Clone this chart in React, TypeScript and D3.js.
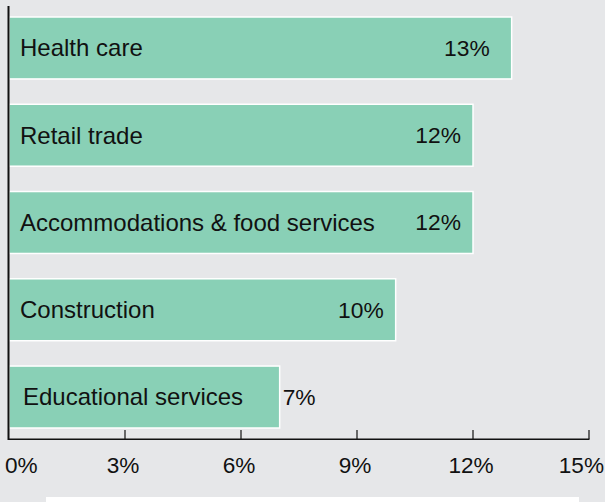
import React from "react";
import * as d3 from "d3";

const categories = [
  "Health care",
  "Retail trade",
  "Accommodations & food services",
  "Construction",
  "Educational services",
];
const values = [13, 12, 12, 10, 7];
const tickValues = [0, 3, 6, 9, 12, 15];

const W = 605;
const H = 502;
const BG = "#e6e7e9";
const BAR = "#89d0b6";
const FONT = "'Liberation Sans', Arial, Helvetica, sans-serif";

export default function App() {
  const x = d3.scaleLinear().domain([0, 15]).range([9, 589]);
  const y = d3
    .scaleBand<string>()
    .domain(categories)
    .range([6, 439])
    .paddingInner(0.29)
    .paddingOuter(0.126);

  return (
    <svg
      width={W}
      height={H}
      style={{ position: "absolute", left: 0, top: 0, background: BG }}
      fontFamily={FONT}
    >
      <rect x={0} y={0} width={W} height={H} fill={BG} />
      {categories.map((c, i) => {
        const v = values[i];
        const y0 = y(c) as number;
        const bw = y.bandwidth();
        const xe = x(v);
        const inside = v >= 9;
        return (
          <g key={c}>
            <rect
              x={x(0)}
              y={y0}
              width={xe - x(0)}
              height={bw}
              fill={BAR}
              stroke="#ffffff"
              strokeWidth={1.5}
            />
            <text
              x={x(0) + 11 + (i === 4 ? 3 : 0)}
              y={y0 + bw / 2}
              dy="0.35em"
              fontSize={24}
              fill="#111"
            >
              {c}
            </text>
            <text
              x={inside ? xe - (i === 0 ? 22 : 12) : xe + 3}
              y={y0 + bw / 2}
              dy="0.35em"
              fontSize={22.8}
              fill="#111"
              textAnchor={inside ? "end" : "start"}
            >
              {v}%
            </text>
          </g>
        );
      })}
      {/* y axis line */}
      <line x1={8.5} x2={8.5} y1={6} y2={440} stroke="#111" strokeWidth={2} />
      {/* x axis */}
      <line x1={8} x2={x(15) + 0.5} y1={439.3} y2={439.3} stroke="#111" strokeWidth={1.5} />
      {tickValues.map((t, i) => {
        const tx = x(t);
        const anchor = i === 0 ? "start" : i === tickValues.length - 1 ? "end" : "middle";
        const lx = i === 0 ? 5 : i === tickValues.length - 1 ? 604 : tx - 2;
        return (
          <g key={t}>
            {i > 0 && (
              <line x1={tx} x2={tx} y1={430} y2={439} stroke="#111" strokeWidth={1.2} />
            )}
            <text x={lx} y={473} fontSize={22.6} fill="#111" textAnchor={anchor}>
              {t}%
            </text>
          </g>
        );
      })}
      <rect x={46} y={497} width={533} height={10} fill="#ffffff" />
    </svg>
  );
}
